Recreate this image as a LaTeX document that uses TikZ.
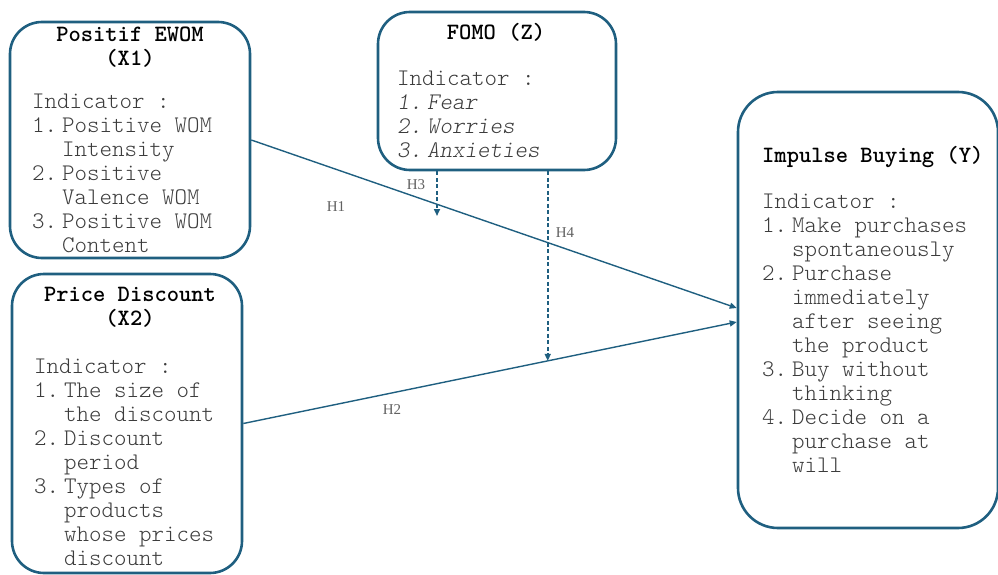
\documentclass[tikz,border=0pt]{standalone}
\usepackage{fontspec}
\newfontfamily\hfont{Liberation Serif}
\usetikzlibrary{arrows.meta}
\definecolor{boxblue}{HTML}{1F5F80}
\definecolor{bodygray}{HTML}{3C3C3C}
\newcommand{\num}[1]{\makebox[30pt][l]{#1}}
\newcommand{\cind}{\hspace*{30pt}}

\begin{document}
\begin{tikzpicture}[x=1pt,y=-1pt,>={Triangle[length=7pt,width=6pt]},
  varbox/.style={draw=boxblue,line width=2.6pt,rounded corners=32pt,inner sep=0pt},
  boxtitle/.style={font=\ttfamily\bfseries\fontsize{23.4}{24}\selectfont,align=center,inner sep=0pt,anchor=north},
  boxbody/.style={font=\ttfamily\fontseries{l}\fontsize{23.8}{24}\selectfont,text=bodygray,align=left,inner sep=0pt,anchor=north west},
  hyp/.style={draw=boxblue,line width=1.4pt,->},
  moder/.style={hyp,line width=1.6pt,dash pattern=on 4pt off 2.5pt},
  hlabel/.style={font=\hfont\fontsize{15}{17}\selectfont,text=black!62}]
\useasboundingbox (0,0) rectangle (998,575);

% variable boxes
\node[varbox,minimum width=240pt,minimum height=236pt] (x1) at (130,140) {};
\node[varbox,minimum width=238pt,minimum height=158pt] (fomo) at (497,91) {};
\node[varbox,minimum width=260pt,minimum height=436pt,rounded corners=40pt] (ybox) at (868,310) {};
\node[varbox,minimum width=230pt,minimum height=299pt] (x2) at (127,423.5) {};

% texts
\node[boxtitle] (x1title) at (130,27) {Positif EWOM\\(X1)};
\node[boxbody] (x1body) at (32,94) {Indicator :\\\num{1.}Positive WOM\\\cind Intensity\\\num{2.}Positive\\\cind Valence WOM\\\num{3.}Positive WOM\\\cind Content};

\node[boxtitle] (fomotitle) at (496,23) {FOMO (Z)};
\node[boxbody] (fomobody) at (397,71) {Indicator :\\\textit{\num{1.}Fear}\\\textit{\num{2.}Worries}\\\textit{\num{3.}Anxieties}};

\node[boxtitle,anchor=north west] (ytitle) at (762,146) {Impulse Buying (Y)};
\node[boxbody] (ybody) at (762,194) {Indicator :\\\num{1.}Make purchases\\\cind spontaneously\\\num{2.}Purchase\\\cind immediately\\\cind after seeing\\\cind the product\\\num{3.}Buy without\\\cind thinking\\\num{4.}Decide on a\\\cind purchase at\\\cind will};

\node[boxtitle] (x2title) at (130,287) {Price Discount\\(X2)};
\node[boxbody] (x2body) at (34,359) {Indicator :\\\num{1.}The size of\\\cind the discount\\\num{2.}Discount\\\cind period\\\num{3.}Types of\\\cind products\\\cind whose prices\\\cind discount};

% hypotheses
\draw[hyp] (x1.east) -- ([yshift=2pt]ybox.west);
\draw[hyp] (x2.east) -- coordinate[pos=0.617] (h2mid) ([yshift=-12pt]ybox.west);
\coordinate (h3end) at (437,216);
\draw[moder] (fomo.south -| h3end) -- (h3end);
\draw[moder] (fomo.south -| h2mid) -- (h2mid);

\node[hlabel] (h1lab) at (336,207) {H1};
\node[hlabel] (h2lab) at (392,410) {H2};
\node[hlabel] (h3lab) at (416,185) {H3};
\node[hlabel] (h4lab) at (565,233) {H4};
\end{tikzpicture}
\end{document}
